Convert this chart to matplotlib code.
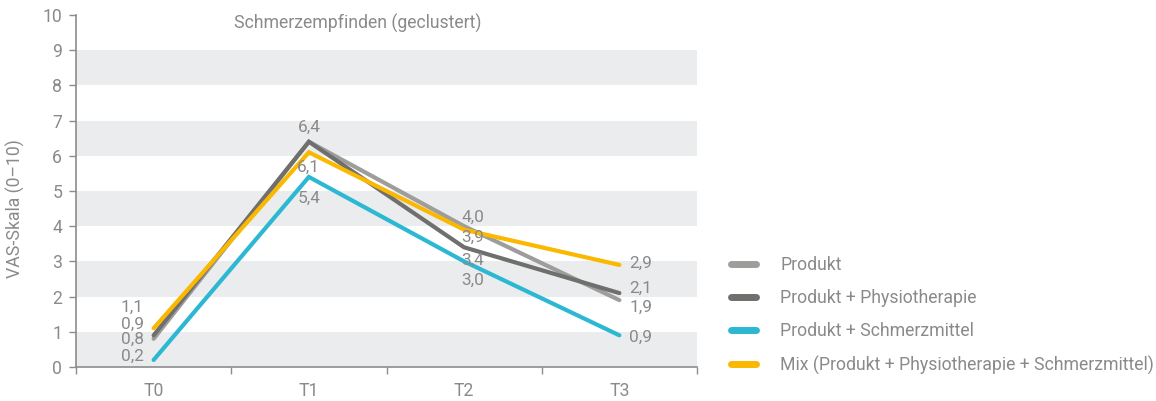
import matplotlib
matplotlib.use("Agg")
import matplotlib.pyplot as plt
from matplotlib.lines import Line2D

plt.rcParams['font.family'] = ['Roboto', 'DejaVu Sans']

# ---- data ----
categories = ["T0", "T1", "T2", "T3"]
series_names = ["Produkt", "Produkt + Physiotherapie", "Produkt + Schmerzmittel",
                "Mix (Produkt + Physiotherapie + Schmerzmittel)"]
produkt = [0.8, 6.4, 4.0, 1.9]
physio = [0.9, 6.4, 3.4, 2.1]
schmerz = [0.2, 5.4, 3.0, 0.9]
mix = [1.1, 6.1, 3.9, 2.9]
yticks = list(range(0, 11))
title = "Schmerzempfinden (geclustert)"
ylabel = "VAS-Skala (0–10)"

# ---- style ----
colors = ["#9d9d9c", "#6f6f6e", "#2cb8d3", "#fbb800"]
text_color = "#8a8a8a"
band_color = "#ebeced"
# label offsets in pixels (dx, dy) per series per category
label_offsets = [
    [(-10, 0), (0, 14), (9, 9), (10, -7)],
    [(-10, 11), (0, 14), (9, -13), (10, 5)],
    [(-10, 4), (0, -21), (9, -19), (10, -2)],
    [(-10, 21), (0, -15), (9, -8), (10, 2)],
]
label_ha = ["right", "center", "center", "left"]

fig = plt.figure(figsize=(11.56, 4.01), dpi=100)
ax = fig.add_axes([76 / 1156, 1 - 367 / 401, 621 / 1156, 352 / 401])

x = list(range(len(categories)))
ax.set_xlim(-0.5, len(categories) - 0.5)
ax.set_ylim(0, 10)

for lo in range(0, 10, 2):
    ax.axhspan(lo, lo + 1, color=band_color, lw=0, zorder=0)

all_series = [produkt, physio, schmerz, mix]
for vals, c, name in zip(all_series, colors, series_names):
    ax.plot(x, vals, color=c, lw=3.0, solid_capstyle='round',
            solid_joinstyle='miter', zorder=3, label=name)

fs = 12.7
lfs = 12.4
weight = 'normal'
seen = set()
for si, vals in enumerate(all_series):
    for ci, v in enumerate(vals):
        dx, dy = label_offsets[si][ci]
        key = (ci, v, dx, dy)
        if key in seen:
            continue
        seen.add(key)
        ax.annotate(f"{v:.1f}".replace(".", ","), (x[ci], v),
                    xytext=(dx, dy), textcoords='offset pixels',
                    ha=label_ha[ci], va='center', fontsize=lfs,
                    color=text_color, fontweight=weight, zorder=4)

ax.set_xticks(x)
ax.set_xticklabels(categories)
ax.set_xticks([i - 0.5 for i in range(len(categories) + 1)], minor=True)
ax.tick_params(axis='x', which='major', length=0, pad=11, labelsize=fs,
               labelcolor=text_color)
ax.tick_params(axis='x', which='minor', length=5, width=1, color="#8c8c8c",
               direction='out')
ax.set_yticks(yticks)
ax.tick_params(axis='y', length=5, width=1, color="#8c8c8c", labelsize=fs,
               labelcolor=text_color, pad=5)
for lab in ax.get_xticklabels() + ax.get_yticklabels():
    lab.set_fontweight(weight)

for s in ["top", "right"]:
    ax.spines[s].set_visible(False)
for s in ["left", "bottom"]:
    ax.spines[s].set_color("#8c8c8c")
    ax.spines[s].set_linewidth(1.2)

ax.set_ylabel(ylabel, fontsize=fs, color=text_color, fontweight=weight)
ax.yaxis.set_label_coords(-0.082, 0.45)

ax.text(0.453, 0.975, title, transform=ax.transAxes, ha='center', va='center',
        fontsize=fs, color=text_color, fontweight=weight)

handles = [Line2D([0], [0], color=c, lw=5, solid_capstyle='round') for c in colors]
leg = fig.legend(handles, series_names, loc='upper left',
                 bbox_to_anchor=(724 / 1156, 1 - 249 / 401), frameon=False,
                 fontsize=fs, handlelength=1.4, handletextpad=1.4,
                 labelspacing=0.86, borderaxespad=0)
for t in leg.get_texts():
    t.set_color(text_color)
    t.set_fontweight(weight)

fig.savefig("out.png", dpi=100)
